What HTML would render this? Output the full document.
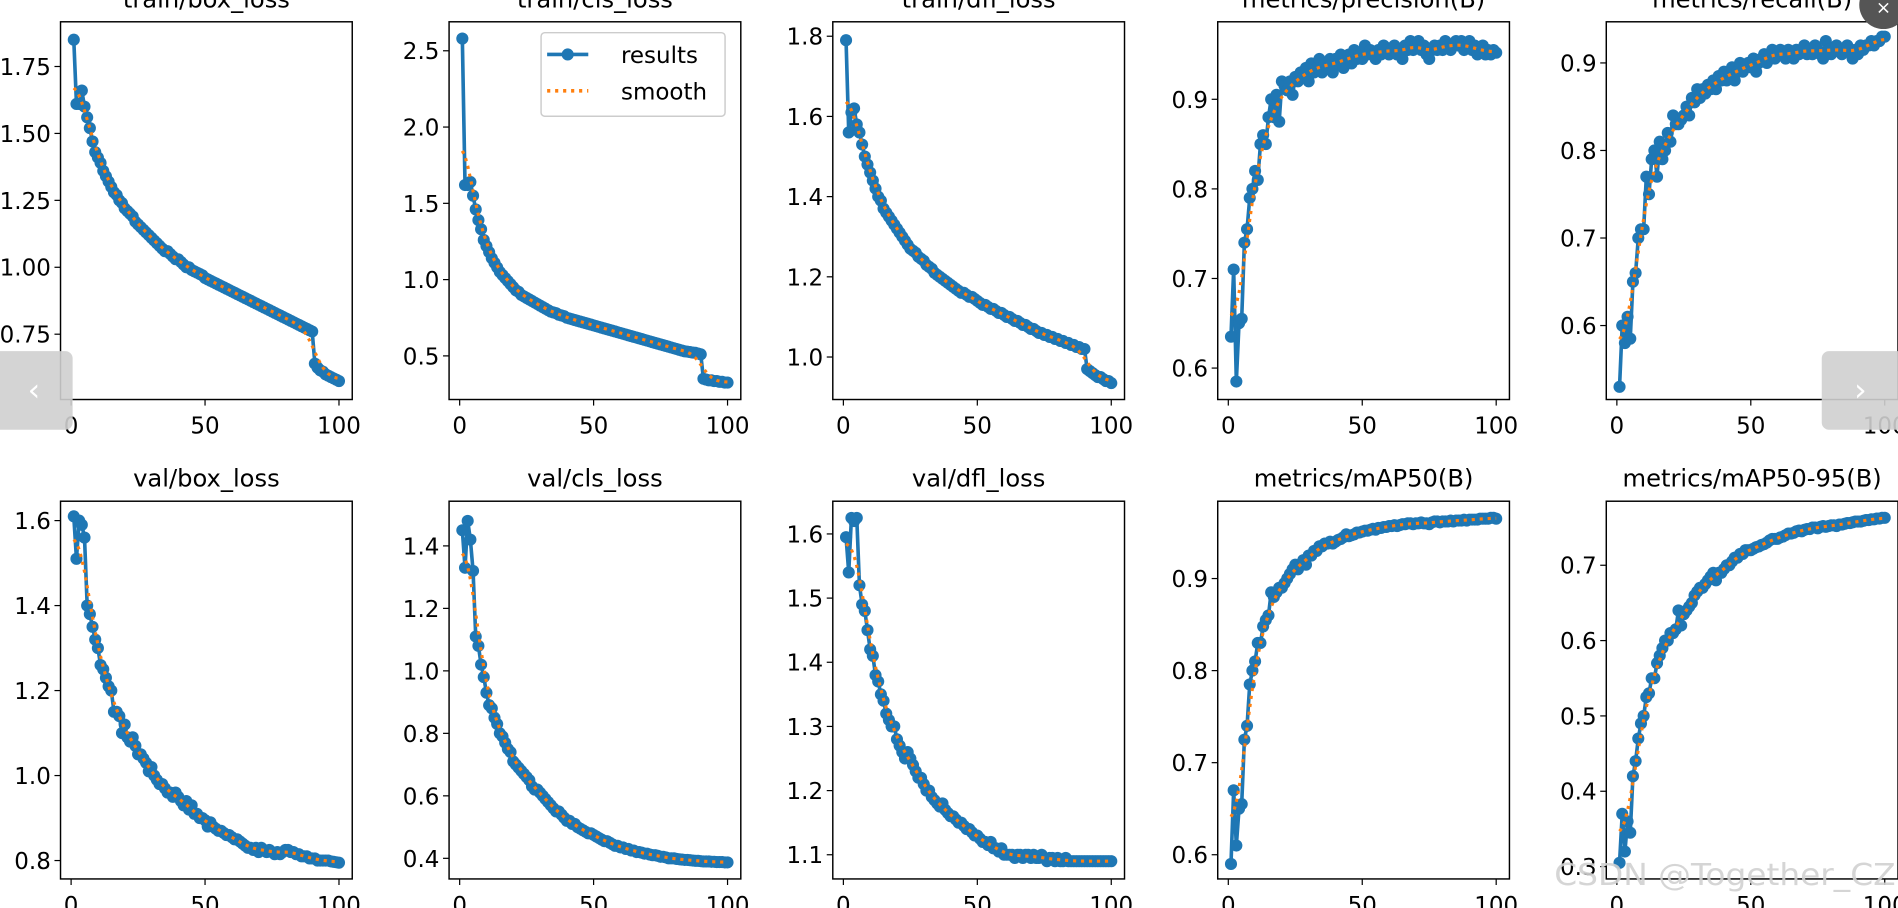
<!DOCTYPE html>
<html><head><meta charset="utf-8"><title>results</title>
<style>
html,body{margin:0;padding:0;background:#fff;overflow:hidden}
svg{display:block}
text{font-family:"DejaVu Sans","Liberation Sans",sans-serif}
</style></head>
<body>
<svg id="chart" xmlns="http://www.w3.org/2000/svg" width="1898" height="908" viewBox="0 0 1568 750" preserveAspectRatio="none"></svg>
<script>
const titles=["train/box_loss","train/cls_loss","train/dfl_loss","metrics/precision(B)","metrics/recall(B)","val/box_loss","val/cls_loss","val/dfl_loss","metrics/mAP50(B)","metrics/mAP50-95(B)"];
const epochs=Array.from({length:100},(_,i)=>i+1);
const xTicks=[0,50,100];
const trainBox=[1.85,1.61,1.61,1.66,1.60,1.56,1.52,1.47,1.43,1.41,1.39,1.36,1.34,1.32,1.30,1.28,1.27,1.25,1.24,1.22,1.21,1.20,1.19,1.17,1.16,1.15,1.14,1.13,1.12,1.11,1.10,1.09,1.08,1.07,1.06,1.06,1.05,1.04,1.03,1.03,1.02,1.01,1.00,1.00,0.99,0.985,0.98,0.975,0.97,0.96,0.955,0.95,0.945,0.94,0.935,0.93,0.925,0.92,0.915,0.91,0.905,0.90,0.895,0.89,0.885,0.88,0.875,0.87,0.865,0.86,0.855,0.85,0.845,0.84,0.835,0.83,0.825,0.82,0.815,0.81,0.805,0.80,0.795,0.79,0.785,0.78,0.775,0.77,0.765,0.76,0.64,0.625,0.615,0.61,0.60,0.595,0.59,0.585,0.58,0.575];
const trainCls=[2.58,1.62,1.62,1.64,1.55,1.46,1.39,1.33,1.26,1.22,1.18,1.14,1.11,1.08,1.05,1.03,1.01,0.99,0.97,0.95,0.93,0.92,0.90,0.89,0.88,0.87,0.86,0.85,0.84,0.83,0.82,0.81,0.80,0.79,0.785,0.78,0.77,0.765,0.76,0.75,0.745,0.74,0.735,0.73,0.725,0.72,0.715,0.71,0.705,0.70,0.695,0.69,0.685,0.68,0.675,0.67,0.665,0.66,0.655,0.65,0.645,0.64,0.635,0.63,0.625,0.62,0.615,0.61,0.605,0.60,0.595,0.59,0.585,0.58,0.575,0.57,0.565,0.56,0.555,0.55,0.545,0.54,0.535,0.53,0.528,0.525,0.522,0.52,0.515,0.51,0.35,0.345,0.34,0.34,0.335,0.335,0.33,0.33,0.325,0.325];
const trainDfl=[1.79,1.56,1.61,1.62,1.58,1.56,1.53,1.50,1.48,1.46,1.44,1.42,1.40,1.39,1.37,1.36,1.35,1.34,1.33,1.32,1.31,1.30,1.29,1.28,1.27,1.265,1.26,1.25,1.245,1.24,1.23,1.225,1.22,1.21,1.205,1.20,1.195,1.19,1.185,1.18,1.175,1.17,1.165,1.16,1.16,1.155,1.15,1.15,1.145,1.14,1.135,1.13,1.13,1.125,1.12,1.12,1.115,1.11,1.11,1.105,1.10,1.10,1.095,1.09,1.09,1.085,1.08,1.08,1.075,1.07,1.07,1.065,1.06,1.06,1.055,1.055,1.05,1.05,1.045,1.045,1.04,1.04,1.035,1.035,1.03,1.03,1.025,1.025,1.02,1.02,0.97,0.965,0.96,0.955,0.95,0.95,0.945,0.94,0.94,0.935];
const precision=[0.635,0.71,0.585,0.65,0.655,0.74,0.755,0.79,0.80,0.82,0.81,0.85,0.86,0.85,0.88,0.90,0.88,0.905,0.875,0.92,0.915,0.91,0.92,0.905,0.925,0.92,0.93,0.925,0.935,0.92,0.94,0.93,0.935,0.945,0.93,0.94,0.935,0.945,0.93,0.945,0.94,0.95,0.935,0.945,0.95,0.94,0.955,0.945,0.95,0.945,0.96,0.95,0.955,0.95,0.945,0.955,0.95,0.96,0.955,0.95,0.955,0.96,0.95,0.955,0.945,0.96,0.955,0.965,0.955,0.96,0.965,0.955,0.96,0.95,0.945,0.955,0.96,0.955,0.96,0.955,0.965,0.96,0.955,0.96,0.965,0.96,0.965,0.955,0.96,0.965,0.955,0.96,0.95,0.955,0.96,0.95,0.955,0.95,0.955,0.952];
const recall=[0.53,0.60,0.58,0.61,0.585,0.65,0.66,0.70,0.71,0.71,0.77,0.75,0.79,0.80,0.77,0.81,0.79,0.80,0.82,0.81,0.84,0.83,0.83,0.835,0.84,0.85,0.84,0.86,0.855,0.87,0.86,0.87,0.865,0.875,0.87,0.88,0.87,0.885,0.88,0.89,0.88,0.885,0.895,0.88,0.89,0.90,0.89,0.895,0.90,0.895,0.905,0.89,0.90,0.905,0.91,0.90,0.91,0.915,0.905,0.91,0.915,0.91,0.905,0.915,0.91,0.905,0.915,0.91,0.915,0.92,0.91,0.915,0.91,0.92,0.915,0.91,0.905,0.925,0.915,0.91,0.915,0.92,0.915,0.91,0.915,0.92,0.915,0.905,0.915,0.91,0.92,0.915,0.92,0.92,0.925,0.92,0.925,0.925,0.93,0.93];
const valBox=[1.61,1.51,1.60,1.59,1.56,1.40,1.38,1.35,1.32,1.30,1.26,1.25,1.23,1.21,1.20,1.15,1.15,1.14,1.10,1.12,1.09,1.08,1.09,1.07,1.05,1.05,1.04,1.03,1.01,1.02,1.00,0.99,0.98,0.98,0.97,0.96,0.96,0.95,0.96,0.95,0.94,0.93,0.94,0.92,0.93,0.91,0.91,0.90,0.90,0.895,0.88,0.89,0.88,0.875,0.87,0.87,0.865,0.86,0.86,0.855,0.85,0.85,0.845,0.84,0.835,0.83,0.83,0.825,0.83,0.82,0.83,0.825,0.82,0.825,0.82,0.815,0.82,0.815,0.82,0.825,0.825,0.82,0.82,0.815,0.815,0.81,0.81,0.81,0.805,0.805,0.805,0.80,0.80,0.80,0.80,0.80,0.798,0.797,0.796,0.795];
const valCls=[1.45,1.33,1.48,1.42,1.32,1.11,1.08,1.02,0.98,0.93,0.89,0.88,0.85,0.83,0.80,0.79,0.77,0.75,0.74,0.71,0.70,0.69,0.68,0.67,0.66,0.65,0.63,0.62,0.62,0.61,0.60,0.59,0.58,0.57,0.56,0.55,0.55,0.54,0.53,0.52,0.52,0.51,0.51,0.50,0.495,0.49,0.485,0.48,0.48,0.475,0.47,0.465,0.46,0.455,0.455,0.45,0.445,0.44,0.44,0.435,0.435,0.43,0.43,0.425,0.425,0.42,0.42,0.418,0.415,0.415,0.412,0.41,0.41,0.408,0.405,0.405,0.403,0.40,0.40,0.40,0.398,0.397,0.396,0.395,0.395,0.394,0.393,0.392,0.392,0.391,0.39,0.39,0.39,0.389,0.389,0.388,0.388,0.388,0.387,0.387];
const valDfl=[1.595,1.54,1.625,1.62,1.625,1.52,1.49,1.48,1.45,1.42,1.41,1.38,1.37,1.35,1.34,1.32,1.31,1.30,1.30,1.28,1.27,1.26,1.25,1.26,1.25,1.24,1.23,1.22,1.22,1.21,1.20,1.20,1.19,1.185,1.18,1.175,1.18,1.17,1.165,1.16,1.16,1.155,1.15,1.15,1.145,1.14,1.14,1.135,1.13,1.13,1.125,1.12,1.12,1.115,1.12,1.11,1.11,1.105,1.11,1.10,1.10,1.10,1.10,1.095,1.10,1.10,1.095,1.10,1.10,1.095,1.10,1.095,1.095,1.10,1.095,1.09,1.095,1.095,1.09,1.095,1.09,1.09,1.095,1.09,1.09,1.09,1.09,1.09,1.09,1.09,1.09,1.09,1.09,1.09,1.09,1.09,1.09,1.09,1.09,1.09];
const map50=[0.59,0.67,0.61,0.65,0.655,0.725,0.74,0.785,0.80,0.81,0.83,0.83,0.848,0.855,0.86,0.885,0.88,0.885,0.89,0.89,0.895,0.90,0.905,0.91,0.915,0.91,0.915,0.92,0.915,0.925,0.925,0.93,0.93,0.935,0.935,0.938,0.938,0.94,0.938,0.94,0.942,0.943,0.945,0.948,0.946,0.947,0.948,0.95,0.95,0.951,0.952,0.952,0.953,0.954,0.953,0.955,0.955,0.956,0.956,0.957,0.957,0.958,0.957,0.958,0.959,0.959,0.96,0.96,0.959,0.96,0.96,0.961,0.96,0.96,0.959,0.961,0.962,0.962,0.961,0.962,0.962,0.962,0.963,0.962,0.963,0.963,0.963,0.964,0.963,0.964,0.964,0.964,0.964,0.965,0.965,0.965,0.965,0.966,0.966,0.965];
const map5095=[0.305,0.37,0.32,0.36,0.345,0.42,0.44,0.47,0.49,0.50,0.525,0.53,0.55,0.55,0.57,0.58,0.59,0.60,0.60,0.61,0.61,0.615,0.64,0.62,0.635,0.64,0.645,0.65,0.66,0.665,0.67,0.67,0.675,0.68,0.685,0.69,0.68,0.69,0.69,0.695,0.70,0.70,0.705,0.71,0.71,0.715,0.715,0.72,0.72,0.72,0.722,0.724,0.725,0.727,0.728,0.73,0.733,0.735,0.735,0.735,0.737,0.738,0.74,0.742,0.742,0.743,0.745,0.746,0.745,0.747,0.748,0.748,0.75,0.75,0.749,0.751,0.752,0.751,0.752,0.753,0.753,0.752,0.754,0.754,0.755,0.756,0.756,0.757,0.758,0.758,0.758,0.759,0.76,0.76,0.761,0.761,0.762,0.762,0.763,0.763];
const series=[trainBox,trainCls,trainDfl,precision,recall,valBox,valCls,valDfl,map50,map5095];
const yTicks=[[0.75,1.00,1.25,1.50,1.75],[0.5,1.0,1.5,2.0,2.5],[1.0,1.2,1.4,1.6,1.8],[0.6,0.7,0.8,0.9],[0.6,0.7,0.8,0.9],[0.8,1.0,1.2,1.4,1.6],[0.4,0.6,0.8,1.0,1.2,1.4],[1.1,1.2,1.3,1.4,1.5,1.6],[0.6,0.7,0.8,0.9],[0.3,0.4,0.5,0.6,0.7]];
const yTickText=[["0.75","1.00","1.25","1.50","1.75"],["0.5","1.0","1.5","2.0","2.5"],["1.0","1.2","1.4","1.6","1.8"],["0.6","0.7","0.8","0.9"],["0.6","0.7","0.8","0.9"],["0.8","1.0","1.2","1.4","1.6"],["0.4","0.6","0.8","1.0","1.2","1.4"],["1.1","1.2","1.3","1.4","1.5","1.6"],["0.6","0.7","0.8","0.9"],["0.3","0.4","0.5","0.6","0.7"]];
const yDomains=[[1.917,0.506],[2.69,0.214],[1.836,0.894],[0.9865,0.5649],[0.947,0.5155],[1.6456,0.7567],[1.543,0.334],[1.651,1.0623],[0.984,0.5737],[0.785,0.2836]];

const NS="http://www.w3.org/2000/svg";
const svg=document.getElementById('chart');
function mk(tag,attrs,parent){const e=document.createElementNS(NS,tag);for(const k in attrs)e.setAttribute(k,attrs[k]);(parent||svg).appendChild(e);return e;}
function smooth(arr,sigma){const n=arr.length,r=Math.ceil(4*sigma),out=[];for(let i=0;i<n;i++){let s=0,w=0;for(let k=-r;k<=r;k++){let j=i+k;if(j<0)j=-j-1;if(j>=n)j=2*n-j-1;const g=Math.exp(-k*k/(2*sigma*sigma));s+=g*arr[j];w+=g;}out.push(s/w);}return out;}
const lefts=[50,371,688,1006,1327],W=241,rowTop=[18,414],H=[312,312];
const X0=-3.95,X1=104.95;
for(let p=0;p<10;p++){
  const col=p%5,row=Math.floor(p/5),L=lefts[col],T=rowTop[row],Hh=H[row],B=T+Hh;
  const [v0,v1]=yDomains[p];
  const xs=v=>L+(v-X0)/(X1-X0)*W;
  const ys=v=>T+(v0-v)/(v0-v1)*Hh;
  const g=mk('g',{});
  
  
  const cp=mk('clipPath',{id:'c'+p},g);mk('rect',{x:L-3,y:T-3,width:W+6,height:Hh+6},cp);
  const t=mk('text',{x:L+W/2,y:row===0?6:402,'text-anchor':'middle','font-size':20,fill:'#000'},g);t.textContent=titles[p];
  
  
  xTicks.forEach(v=>{const x=xs(v);mk('line',{x1:x,x2:x,y1:B,y2:B+5,stroke:'#000','stroke-width':1},g);const tt=mk('text',{x:x,y:B+28,'text-anchor':'middle','font-size':19},g);tt.textContent=v;
    
    });
  yTicks[p].forEach((v,i)=>{const y=ys(v);mk('line',{x1:L-5,x2:L,y1:y,y2:y,stroke:'#000','stroke-width':1},g);const tt=mk('text',{x:L-8,y:y+7,'text-anchor':'end','font-size':19},g);tt.textContent=yTickText[p][i];
    
    });
  const data=series[p];
  const pts=data.map((v,i)=>xs(epochs[i]).toFixed(2)+','+ys(v).toFixed(2)).join(' ');
  const pg=mk('g',{'clip-path':'url(#c'+p+')'},g);
  const line=mk('polyline',{points:pts,fill:'none',stroke:'#1f77b4','stroke-width':3,'stroke-linejoin':'round'},pg);
  
  
  data.forEach((v,i)=>{const c=mk('circle',{cx:xs(epochs[i]),cy:ys(v),r:5,fill:'#1f77b4'},pg);
    
    });
  const sm=smooth(data,3);
  const sl=mk('polyline',{points:sm.map((v,i)=>xs(epochs[i]).toFixed(2)+','+ys(v).toFixed(2)).join(' '),fill:'none',stroke:'#ff7f0e','stroke-width':2.6,'stroke-dasharray':'2.6,4'},pg);
  
  
  const fr=mk('rect',{x:L,y:T,width:W,height:Hh,fill:'none',stroke:'#000','stroke-width':1.2},g);
  
  
}
// legend
const lg=mk('g',{});


mk('rect',{x:447,y:27,width:152,height:69,rx:3,fill:'#fff',stroke:'#ccc','stroke-width':1.2},lg);
mk('line',{x1:452,x2:486,y1:45,y2:45,stroke:'#1f77b4','stroke-width':3},lg);
mk('circle',{cx:469,cy:45,r:5,fill:'#1f77b4'},lg);
const l1=mk('text',{x:513,y:52,'font-size':19},lg);l1.textContent='results';


mk('line',{x1:452,x2:486,y1:75,y2:75,stroke:'#ff7f0e','stroke-width':3,'stroke-dasharray':'2.6,4'},lg);
const l2=mk('text',{x:513,y:82,'font-size':19},lg);l2.textContent='smooth';


// overlay widgets
const pb=mk('g',{});


mk('rect',{x:-8,y:290,width:68,height:65,rx:6,fill:'#cfcfcf','fill-opacity':0.9},pb);
const pt=mk('text',{x:28,y:331,'text-anchor':'middle','font-size':26,fill:'#fff'},pb);pt.textContent='‹';
const nb=mk('g',{});


mk('rect',{x:1505,y:290,width:70,height:65,rx:6,fill:'#cfcfcf','fill-opacity':0.9},nb);
const nt=mk('text',{x:1537,y:331,'text-anchor':'middle','font-size':26,fill:'#fff'},nb);nt.textContent='›';
const cb=mk('g',{});


mk('circle',{cx:1556,cy:4,r:20,fill:'#555'},cb);
const ct=mk('text',{x:1556,y:11,'text-anchor':'middle','font-size':15,fill:'#fff'},cb);ct.textContent='×';
const wm=mk('text',{x:1284,y:731,'font-size':25,fill:'#d0d0d0','fill-opacity':0.9,textLength:282,lengthAdjust:'spacingAndGlyphs'});wm.textContent='CSDN @Together_CZ';


</script>
</body></html>
